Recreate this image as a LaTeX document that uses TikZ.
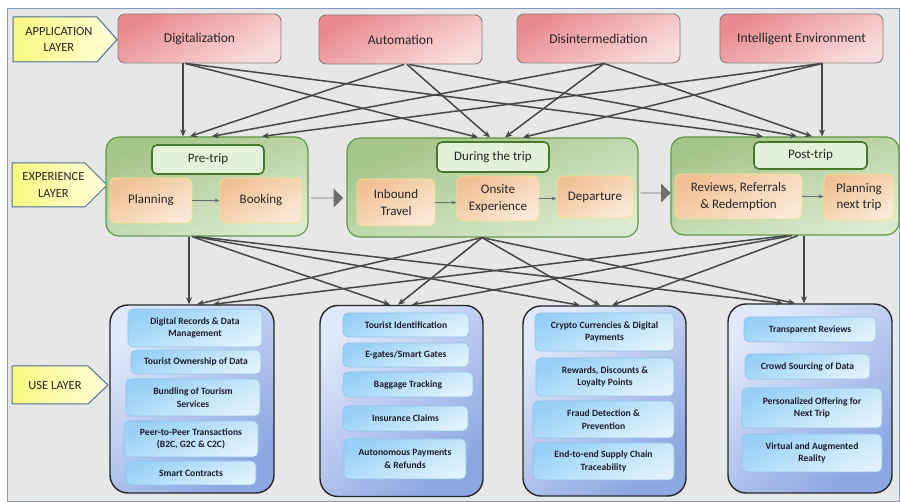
\documentclass[tikz,border=0pt]{standalone}
\usepackage{fontspec}
\setmainfont{Carlito}
\usetikzlibrary{arrows.meta,shapes.arrows,calc}
\definecolor{bgray}{HTML}{E7E7E7}
\definecolor{frameblue}{HTML}{7F9CC0}
\definecolor{redA}{HTML}{E98A8F}
\definecolor{redB}{HTML}{F9DCDD}
\definecolor{redline}{HTML}{8A7F7F}
\definecolor{grnA}{HTML}{A3C589}
\definecolor{grnB}{HTML}{DCEAD0}
\definecolor{grnline}{HTML}{609846}
\definecolor{hdrfill}{HTML}{E3F1DA}
\definecolor{hdrline}{HTML}{46782A}
\definecolor{orA}{HTML}{F1C195}
\definecolor{orB}{HTML}{FBE8D6}
\definecolor{orline}{HTML}{F1E58F}
\definecolor{bluA}{HTML}{E1E8FA}
\definecolor{bluB}{HTML}{8CA6E2}
\definecolor{itemA}{HTML}{98D0F5}
\definecolor{itemB}{HTML}{DFF2FD}
\definecolor{itemline}{HTML}{8EC3E6}
\definecolor{ylwA}{HTML}{F8F880}
\definecolor{ylwB}{HTML}{FFFFDC}
\definecolor{ylwline}{HTML}{4F6E9C}
\definecolor{conn}{HTML}{474747}
\definecolor{txt}{HTML}{262626}
\definecolor{itxt}{HTML}{1C1C2A}
\definecolor{bigarrow}{HTML}{6E6E6E}
\tikzset{
  appbox/.style={rectangle, rounded corners=7, draw=redline, line width=0.9,
    top color=redA, bottom color=redB, shading angle=30, inner sep=0,
    text=txt, font=\fontsize{13.5}{16}\selectfont},
  expgrp/.style={rectangle, rounded corners=13, draw=grnline, line width=1.2,
    top color=grnA, bottom color=grnB, shading angle=20, inner sep=0},
  hdr/.style={rectangle, rounded corners=5, draw=hdrline, line width=1.6,
    fill=hdrfill, inner sep=0, text=txt, font=\fontsize{13}{16}\selectfont},
  sub/.style={rectangle, rounded corners=6, draw=orline, line width=0.8,
    top color=orA, bottom color=orB, shading angle=30, inner sep=0, align=center,
    text=txt, font=\fontsize{13}{16.5}\selectfont},
  lblshape/.style={draw=ylwline, line width=1, left color=ylwA, right color=ylwB},
  lbltext/.style={align=center, text=txt, font=\fontsize{12.5}{16.5}\selectfont, inner sep=0},
  usegrp/.style={rectangle, rounded corners=18, draw=black!85, line width=1.4,
    top color=bluA, bottom color=bluB, shading angle=40, inner sep=0},
  item/.style={rectangle, rounded corners=5, draw=itemline, line width=0.6,
    top color=itemA, bottom color=itemB, shading angle=25, inner sep=0, align=center,
    text=itxt, font=\bfseries\fontsize{9.6}{12.5}\selectfont},
  bigarr/.style={single arrow, single arrow head extend=4, minimum width=19,
    fill=bigarrow, draw=none, inner sep=0},
  conn/.style={draw=conn, line width=1.5, -{Stealth[length=7pt,width=6pt]}},
  thinarr/.style={draw=gray!85!black, line width=0.8, -{Stealth[length=5pt,width=4pt]}}
}
\begin{document}
\begin{tikzpicture}[x=1pt,y=-1pt]
\useasboundingbox (0,0) rectangle (900,502);
\fill[white] (0,0) rectangle (900,502);
\draw[draw=frameblue, fill=bgray, line width=1] (7,9) rectangle (899,501);

% Labels
\path[lblshape] (13,17) -- (97,17) -- (117,39.5) -- (97,62) -- (13,62) -- cycle;
\node[lbltext] (applbltxt) at (59,39.5) {APPLICATION\\LAYER};
\path[lblshape] (12,163) -- (85,163) -- (107,185) -- (85,207) -- (12,207) -- cycle;
\node[lbltext] (explbltxt) at (53.5,185) {EXPERIENCE\\LAYER};
\path[lblshape] (12,366) -- (88,366) -- (108,385) -- (88,404) -- (12,404) -- cycle;
\node[lbltext] (uselbltxt) at (55,385) {USE LAYER};

% Application layer
\node[appbox, minimum width=163, minimum height=49] (digi) at (199.5,38.5) {Digitalization};
\node[appbox, minimum width=163, minimum height=49] (auto) at (400.5,39.5) {Automation};
\node[appbox, minimum width=163, minimum height=49] (disi) at (598.5,38.5) {Disintermediation};
\node[appbox, minimum width=163, minimum height=49] (intel) at (801.5,38.5) {Intelligent Environment};

% Experience layer
\node[expgrp, minimum width=202, minimum height=99] (pre) at (207,186.5) {};
\node[expgrp, minimum width=291, minimum height=99] (dur) at (492.5,187.5) {};
\node[expgrp, minimum width=228, minimum height=98] (post) at (785,186) {};

\node[hdr, minimum width=112, minimum height=29] (prehdr) at (208,159.5) {Pre-trip};
\node[hdr, minimum width=112, minimum height=30] (durhdr) at (493,157) {During the trip};
\node[hdr, minimum width=113, minimum height=27] (posthdr) at (810.5,155.5) {Post-trip};

\node[sub, minimum width=82, minimum height=45] (plan) at (151,200.5) {Planning};
\node[sub, minimum width=82, minimum height=45] (book) at (261,200.5) {Booking};
\node[sub, minimum width=78, minimum height=47] (inb) at (396,202.5) {Inbound\\Travel};
\node[sub, minimum width=82, minimum height=45] (onsite) at (498,198.5) {Onsite\\Experience};
\node[sub, minimum width=76, minimum height=42] (dep) at (595,197) {Departure};
\node[sub, minimum width=127, minimum height=45] (rev) at (738.5,196.5) {Reviews, Referrals\\\& Redemption};
\node[sub, minimum width=70, minimum height=46] (pnext) at (859,197) {Planning\\next trip};

\draw[thinarr] (plan.east) -- (book.west |- plan.east);
\draw[thinarr] (inb.east) -- (onsite.west |- inb.east);
\draw[thinarr] (onsite.east) -- (dep.west |- onsite.east);
\draw[thinarr] (rev.east) -- (pnext.west |- rev.east);

\node[bigarr, minimum height=32] (arr1) at (327,198) {};
\node[bigarr, minimum height=30] (arr2) at (655.5,193) {};

% Use layer
\node[usegrp, minimum width=164, minimum height=188] (u1) at (192,399) {};
\node[usegrp, minimum width=163, minimum height=191] (u2) at (401.5,401) {};
\node[usegrp, minimum width=163, minimum height=190] (u3) at (604.5,401) {};
\node[usegrp, minimum width=164, minimum height=189] (u4) at (810,398.5) {};

\node[item, minimum width=134, minimum height=38] (i11) at (195,328) {Digital Records \& Data\\Management};
\node[item, minimum width=130, minimum height=24] (i12) at (196,362) {Tourist Ownership of Data};
\node[item, minimum width=134, minimum height=37] (i13) at (193,397.5) {Bundling of Tourism\\Services};
\node[item, minimum width=134, minimum height=36] (i14) at (191,439) {Peer-to-Peer Transactions\\(B2C, G2C \& C2C)};
\node[item, minimum width=130, minimum height=24] (i15) at (191,473) {Smart Contracts};

\node[item, minimum width=126, minimum height=24] (i21) at (406,325) {Tourist Identification};
\node[item, minimum width=126, minimum height=24] (i22) at (406,355) {E-gates/Smart Gates};
\node[item, minimum width=130, minimum height=25] (i23) at (408,384.5) {Baggage Tracking};
\node[item, minimum width=125, minimum height=25] (i24) at (405.5,418.5) {Insurance Claims};
\node[item, minimum width=122, minimum height=40] (i25) at (405,459) {Autonomous Payments\\\& Refunds};

\node[item, minimum width=139, minimum height=38] (i31) at (604.5,332) {Crypto Currencies \& Digital\\Payments};
\node[item, minimum width=138, minimum height=38] (i32) at (605,377) {Rewards, Discounts \&\\Loyalty Points};
\node[item, minimum width=141, minimum height=37] (i33) at (603.5,419.5) {Fraud Detection \&\\Prevention};
\node[item, minimum width=141, minimum height=37] (i34) at (603.5,461.5) {End-to-end Supply Chain\\Traceability};

\node[item, minimum width=132, minimum height=25] (i41) at (810,329.5) {Transparent Reviews};
\node[item, minimum width=125, minimum height=25] (i42) at (807.5,366.5) {Crowd Sourcing of Data};
\node[item, minimum width=140, minimum height=40] (i43) at (812,408) {Personalized Offering for\\Next Trip};
\node[item, minimum width=140, minimum height=38] (i44) at (812,453) {Virtual and Augmented\\Reality};

% Connectors: application -> experience
\draw[conn] ([xshift=-16.5]digi.south) -- ([xshift=-24]pre.north);
\draw[conn] ([xshift=-14.5]digi.south) -- ([xshift=-14.5]dur.north);
\draw[conn] ([xshift=-13.5]digi.south) -- ([xshift=-22]post.north);
\draw[conn] ([xshift=3.5]auto.south) -- ([xshift=-17]pre.north);
\draw[conn] ([xshift=6.5]auto.south) -- ([xshift=-2.5]dur.north);
\draw[conn] ([xshift=8.5]auto.south) -- ([xshift=12]post.north);
\draw[conn] ([xshift=5.5]disi.south) -- ([xshift=5]pre.north);
\draw[conn] ([xshift=5.5]disi.south) -- ([xshift=12.5]dur.north);
\draw[conn] ([xshift=5.5]disi.south) -- ([xshift=27]post.north);
\draw[conn] ([xshift=20.5]intel.south) -- ([xshift=55]pre.north);
\draw[conn] ([xshift=20.5]intel.south) -- ([xshift=30.5]dur.north);
\draw[conn] ([xshift=20.5]intel.south) -- ([xshift=37]post.north);

% Connectors: experience -> use
\draw[conn] ([xshift=-18]pre.south) -- ([xshift=-3]u1.north);
\draw[conn] ([xshift=-15]pre.south) -- ([xshift=-11.5]u2.north);
\draw[conn] ([xshift=-12]pre.south) -- ([xshift=-24.5]u3.north);
\draw[conn] ([xshift=-10]pre.south) -- ([xshift=-27]u4.north);
\draw[conn] ([xshift=-10.5]dur.south) -- ([xshift=5]u1.north);
\draw[conn] ([xshift=-10.5]dur.south) -- ([xshift=-3.5]u2.north);
\draw[conn] ([xshift=-10.5]dur.south) -- ([xshift=-4.5]u3.north);
\draw[conn] ([xshift=-10.5]dur.south) -- ([xshift=-15]u4.north);
\draw[conn] ([xshift=2]post.south) -- ([xshift=21]u1.north);
\draw[conn] ([xshift=7]post.south) -- ([xshift=10.5]u2.north);
\draw[conn] ([xshift=13]post.south) -- ([xshift=7.5]u3.north);
\draw[conn] ([xshift=19]post.south) -- ([xshift=-6]u4.north);
\end{tikzpicture}
\end{document}
